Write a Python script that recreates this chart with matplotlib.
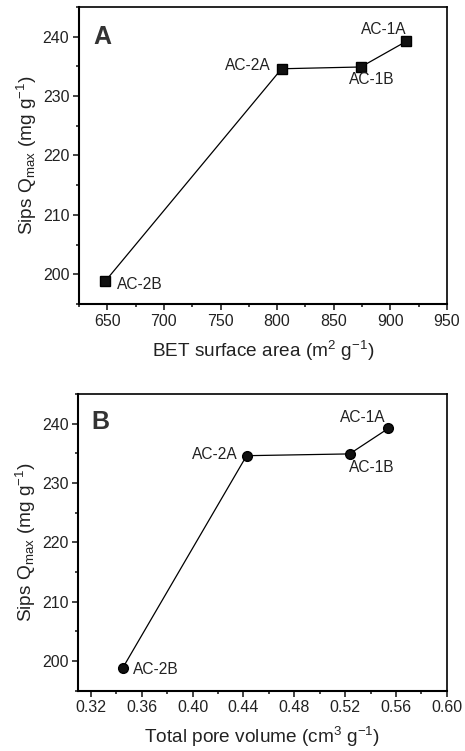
import numpy as np
import matplotlib
matplotlib.use("Agg")
import matplotlib.pyplot as plt
from matplotlib.ticker import MultipleLocator

plt.rcParams["font.family"] = ["Liberation Sans", "DejaVu Sans"]
plt.rcParams["mathtext.fontset"] = "custom"
plt.rcParams["mathtext.rm"] = "Liberation Sans"
plt.rcParams["mathtext.it"] = "Liberation Sans:italic"

# data
samples = ["AC-2B", "AC-2A", "AC-1B", "AC-1A"]
bet_area = np.array([648, 804, 874, 914])
pore_volume = np.array([0.345, 0.4425, 0.5235, 0.554])
qmax = np.array([198.8, 234.6, 234.9, 239.2])

# label offsets (pixels) and alignment per sample
offsets_a = {"AC-2B": (12, -3, "left"), "AC-2A": (-11, 3, "right"),
             "AC-1B": (11, -13, "center"), "AC-1A": (-22, 12, "center")}
offsets_b = {"AC-2B": (10, -1, "left"), "AC-2A": (-9, 1, "right"),
             "AC-1B": (22, -14, "center"), "AC-1A": (-26, 11, "center")}

ylabel = "Sips Q$_{\\mathrm{max}}$ (mg g$^{\\mathrm{-1}}$)"

fig = plt.figure(figsize=(4.65, 7.51), dpi=100)
ax_a = fig.add_axes([0.170, 0.5952, 0.791, 0.3955])
ax_b = fig.add_axes([0.168, 0.0803, 0.793, 0.3951])


def style_axes(ax, xmaj, xmin):
    ax.set_ylim(195, 245)
    ax.yaxis.set_major_locator(MultipleLocator(10))
    ax.yaxis.set_minor_locator(MultipleLocator(5))
    ax.xaxis.set_major_locator(MultipleLocator(xmaj))
    ax.xaxis.set_minor_locator(MultipleLocator(xmin))
    ax.tick_params(which="both", direction="out", top=False, right=False,
                   labelsize=11.5, width=1.2, colors="#222222", pad=3)
    ax.tick_params(which="major", length=4)
    ax.tick_params(which="minor", length=2.5)
    for side in ["left", "bottom"]:
        ax.spines[side].set_linewidth(1.5)
    for side in ["top", "right"]:
        ax.spines[side].set_linewidth(1.2)
    ax.set_ylabel(ylabel, fontsize=13.7, color="#222222", labelpad=3)


def label_points(ax, xs, offs):
    for name, x, y in zip(samples, xs, qmax):
        dx, dy, ha = offs[name]
        ax.annotate(name, (x, y), xytext=(dx, dy), textcoords="offset pixels",
                    ha=ha, va="center", fontsize=11.2, color="#222222")


# panel A: BET surface area
ax_a.plot(bet_area, qmax, "-s", color="black", lw=0.9, ms=6.5,
          markerfacecolor="#111111")
ax_a.set_xlim(625, 950)
style_axes(ax_a, 50, 25)
ax_a.set_xlabel("BET surface area (m$^{\\mathrm{2}}$ g$^{\\mathrm{-1}}$)",
                fontsize=13.7, color="#222222", labelpad=7)
label_points(ax_a, bet_area, offsets_a)
ax_a.text(0.04, 0.94, "A", transform=ax_a.transAxes, ha="left", va="top",
          fontsize=18, fontweight="bold", color="#333333")

# panel B: total pore volume
ax_b.plot(pore_volume, qmax, "-o", color="black", lw=0.9, ms=7,
          markerfacecolor="#111111")
ax_b.set_xlim(0.31, 0.60)
style_axes(ax_b, 0.04, 0.02)
ax_b.xaxis.set_major_formatter(plt.FormatStrFormatter("%.2f"))
ax_b.set_xlabel("Total pore volume (cm$^{\\mathrm{3}}$ g$^{\\mathrm{-1}}$)",
                fontsize=13.7, color="#222222", labelpad=7)
label_points(ax_b, pore_volume, offsets_b)
ax_b.text(0.037, 0.945, "B", transform=ax_b.transAxes, ha="left", va="top",
          fontsize=18, fontweight="bold", color="#333333")

fig.savefig("out.png", dpi=100)
